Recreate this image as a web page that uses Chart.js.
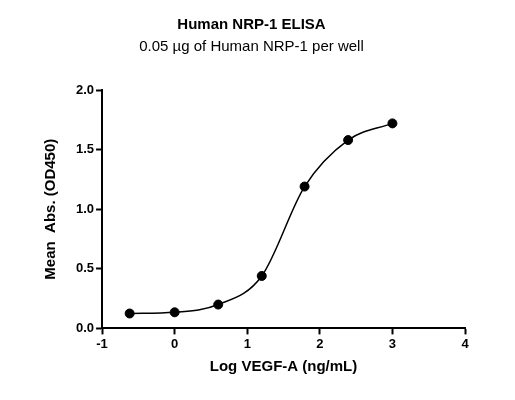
<!DOCTYPE html>
<html><head><meta charset="utf-8">
<script src="https://cdn.jsdelivr.net/npm/chart.js@4"></script>
<style>html,body{margin:0;background:#fff}#w{width:515px;height:400px}</style>
</head><body><div id="w"><canvas id="c"></canvas></div>
<script>
const logConc = [-0.62, 0.0, 0.6, 1.2, 1.79, 2.39, 3.0];
const meanAbs = [0.125, 0.135, 0.2, 0.44, 1.19, 1.58, 1.72];
const xTicks = [-1, 0, 1, 2, 3, 4];
const yTicks = [0.0, 0.5, 1.0, 1.5, 2.0];
const pts = logConc.map((x,i)=>({x, y: meanAbs[i]}));
Chart.defaults.font.family = "'Liberation Sans', Arial, sans-serif";
Chart.defaults.color = '#000';
const gridOpt = { display: true, drawOnChartArea: false, drawTicks: true, tickLength: 6, tickColor: '#000', tickWidth: 2 };
new Chart(document.getElementById('c'), {
  type: 'scatter',
  data: { datasets: [
    { data: pts, showLine: true, cubicInterpolationMode: 'monotone', borderColor: '#000', borderWidth: 1.5, pointRadius: 0, fill: false },
    { data: pts, showLine: false, pointRadius: 4.5, backgroundColor: '#000', borderColor: '#000' }
  ]},
  options: {
    responsive: true, maintainAspectRatio: false, animation: false,
    layout: { padding: { left: 38, right: 50, top: 8, bottom: 20 } },
    plugins: {
      legend: { display: false }, tooltip: { enabled: false },
      title: { display: true, text: 'Human NRP-1 ELISA', font: { size: 15, weight: 'bold' }, padding: { top: 8, bottom: 4 } },
      subtitle: { display: true, text: '0.05 µg of Human NRP-1 per well', font: { size: 15 }, padding: { bottom: 34 } }
    },
    scales: {
      x: { type: 'linear', min: -1, max: 4,
        afterBuildTicks: s => { s.ticks = xTicks.map(v=>({value:v})); },
        grid: gridOpt,
        border: { color: '#000', width: 2 },
        ticks: { font: { size: 13, weight: 'bold' }, padding: 2 },
        title: { display: true, text: 'Log VEGF-A (ng/mL)', font: { size: 15, weight: 'bold' }, padding: { top: 4 } } },
      y: { min: 0, max: 2,
        afterBuildTicks: s => { s.ticks = yTicks.map(v=>({value:v})); },
        grid: gridOpt,
        border: { color: '#000', width: 2 },
        ticks: { font: { size: 13, weight: 'bold' }, padding: 2, callback: v => v.toFixed(1) },
        title: { display: true, text: 'Mean  Abs. (OD450)', font: { size: 15, weight: 'bold' }, padding: { bottom: 14 } } }
    }
  }
});
</script></body></html>
